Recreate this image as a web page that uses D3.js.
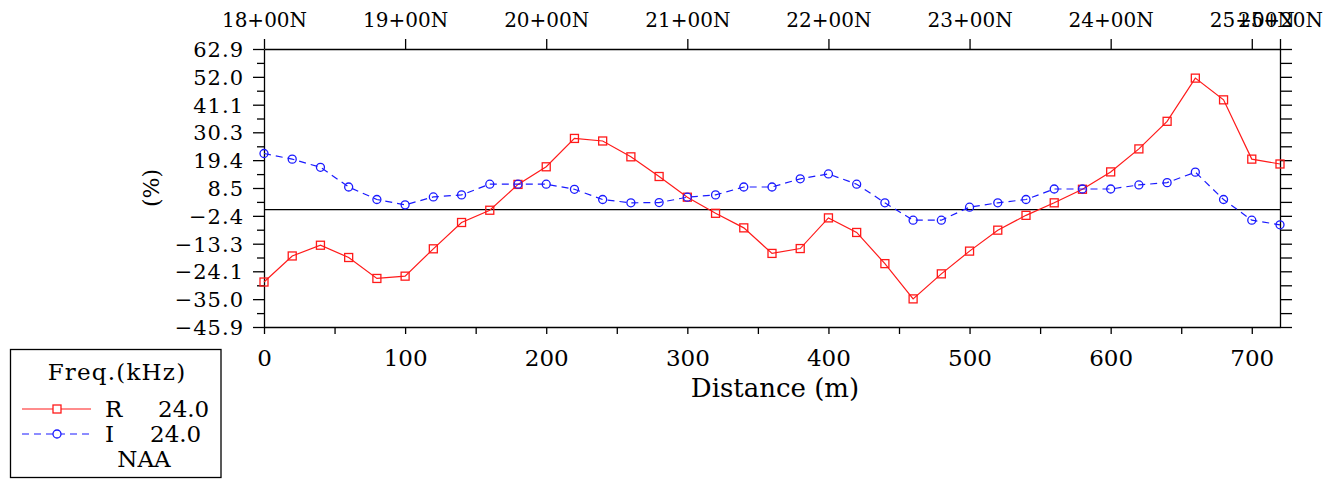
<!DOCTYPE html>
<html><head><meta charset="utf-8">
<script src="https://cdn.jsdelivr.net/npm/d3@7/dist/d3.min.js"></script>
<style>
body{margin:0;background:#fff;}
svg text{font-family:"DejaVu Serif",serif;fill:#000;}
</style></head><body>
<svg id="c" width="1340" height="479"></svg>
<script>
const distance = [0,20,40,60,80,100,120,140,160,180,200,220,240,260,280,300,320,340,360,380,400,420,440,460,480,500,520,540,560,580,600,620,640,660,680,700,720];
const seriesR = [-28.3,-18.1,-13.9,-18.7,-26.9,-26.0,-15.3,-5.0,-0.2,9.9,16.8,27.9,26.9,20.7,13.0,4.9,-1.4,-7.1,-17.1,-15.2,-3.2,-8.9,-21.1,-34.9,-25.1,-16.2,-8.0,-2.2,2.7,8.0,14.8,23.8,34.6,51.5,43.0,19.8,17.9];
const seriesI = [22.0,19.8,16.6,8.9,4.0,1.9,5.0,5.8,10.0,10.0,10.0,8.0,4.0,2.7,2.8,4.9,5.8,8.9,8.9,12.1,14.0,10.0,2.7,-4.1,-4.1,1.0,2.7,4.0,8.1,8.1,8.1,9.7,10.6,14.7,4.0,-4.1,-5.9];
const yTickLabels = ["-45.9","-35.0","-24.1","-13.3","-2.4","8.5","19.4","30.3","41.1","52.0","62.9"];
const xTickLabels = [0,100,200,300,400,500,600,700];
const stationValues = [0,100,200,300,400,500,600,700,720];
const stationLabels = ["18+00N","19+00N","20+00N","21+00N","22+00N","23+00N","24+00N","25+00N","25+20N"];
const legendTitle = "Freq.(kHz)";
const legendItems = [{name:"R",freq:"24.0"},{name:"I",freq:"24.0"}];
const legendFooter = "NAA";

const svg = d3.select("#c");
const L=264, R=1280, T=49, B=327;
const yMin=-45.9, yMax=62.9;
const x = d3.scaleLinear().domain([0,720]).range([L,R]);
const y = d3.scaleLinear().domain([yMin,yMax]).range([B,T]);
const yTicks = yTickLabels.map(Number);
const step = (yMax-yMin)/10;
const yMinor = d3.range(10).map(i=>yMin+step*(i+0.5));
const FONT = '"DejaVu Serif", serif';

function styleAxis(g, fs, ls){
  g.selectAll("path").attr("stroke","#000").attr("stroke-width",1.3);
  g.selectAll("line").attr("stroke","#000").attr("stroke-width",1.3);
  g.selectAll("text").attr("font-size",fs||20).attr("font-family",FONT).attr("letter-spacing",ls||0);
}

// left axis
const gl = svg.append("g").attr("transform",`translate(${L},0)`)
  .call(d3.axisLeft(y).tickValues(yTicks).tickFormat((d,i)=>yTickLabels[i].replace("-","\u2212")).tickSize(11).tickSizeOuter(0).tickPadding(9));
styleAxis(gl, 21, 1);
gl.selectAll("text").attr("dy","0.36em");
svg.append("g").attr("transform",`translate(${L},0)`)
  .call(d3.axisLeft(y).tickValues(yMinor).tickFormat("").tickSize(7).tickSizeOuter(0))
  .call(g=>{g.select("path").remove();styleAxis(g);});

// right axis
const gr = svg.append("g").attr("transform",`translate(${R},0)`)
  .call(d3.axisRight(y).tickValues(yTicks.concat(yMinor)).tickFormat("").tickSize(12).tickSizeOuter(0));
styleAxis(gr);

// bottom axis
const gb = svg.append("g").attr("transform",`translate(0,${B})`)
  .call(d3.axisBottom(x).tickValues(d3.range(0,701,50)).tickFormat(d=>xTickLabels.includes(d)?d:"").tickSize(7).tickSizeOuter(0).tickPadding(16));
styleAxis(gb, 23, 0);

// top axis
const gt = svg.append("g").attr("transform",`translate(0,${T})`)
  .call(d3.axisTop(x).tickValues(stationValues).tickFormat((d,i)=>stationLabels[i]).tickSize(10).tickSizeOuter(0).tickPadding(12));
styleAxis(gt, 20, 0);

// zero line
svg.append("line").attr("x1",L).attr("x2",R).attr("y1",y(0)).attr("y2",y(0))
  .attr("stroke","#000").attr("stroke-width",1.3);

// axis titles
svg.append("text").attr("x",775).attr("y",397).attr("text-anchor","middle").attr("font-size",26).text("Distance (m)");
svg.append("text").attr("transform","translate(159,188) rotate(-90)").attr("text-anchor","middle").attr("font-size",22).text("(%)");

// series
const line = d3.line().x((d,i)=>x(distance[i])).y(d=>y(d));
const red="#ff1a1a", blue="#1a1aff";
svg.append("path").datum(seriesR).attr("d",line).attr("fill","none").attr("stroke",red).attr("stroke-width",1.2);
svg.append("path").datum(seriesI).attr("d",line).attr("fill","none").attr("stroke",blue).attr("stroke-width",1.2).attr("stroke-dasharray","7,5");
svg.append("g").selectAll("rect").data(seriesR).join("rect")
  .attr("x",(d,i)=>x(distance[i])-4).attr("y",d=>y(d)-4).attr("width",8).attr("height",8)
  .attr("fill","none").attr("stroke",red).attr("stroke-width",1.3);
svg.append("g").selectAll("circle").data(seriesI).join("circle")
  .attr("cx",(d,i)=>x(distance[i])).attr("cy",d=>y(d)).attr("r",4)
  .attr("fill","none").attr("stroke",blue).attr("stroke-width",1.3);

// legend
const lg = svg.append("g");
lg.append("rect").attr("x",10.5).attr("y",349.5).attr("width",210.5).attr("height",128)
  .attr("fill","none").attr("stroke","#000").attr("stroke-width",1.3);
lg.append("text").attr("x",117).attr("y",380).attr("text-anchor","middle").attr("font-size",23).attr("letter-spacing",1.2).text(legendTitle);
const ly=[409,434], colors=[red,blue], fx=[158,150];
legendItems.forEach((it,i)=>{
  lg.append("line").attr("x1",22).attr("x2",91).attr("y1",ly[i]).attr("y2",ly[i])
    .attr("stroke",colors[i]).attr("stroke-width",1.2).attr("stroke-dasharray",i?"7,5":null);
  if(i===0) lg.append("rect").attr("x",53).attr("y",ly[i]-4).attr("width",8).attr("height",8).attr("fill","#fff").attr("stroke",red).attr("stroke-width",1.3);
  else lg.append("circle").attr("cx",57).attr("cy",ly[i]).attr("r",4).attr("fill","#fff").attr("stroke",blue).attr("stroke-width",1.3);
  lg.append("text").attr("x",105).attr("y",ly[i]+8).attr("font-size",23).text(it.name);
  lg.append("text").attr("x",fx[i]).attr("y",ly[i]+8).attr("font-size",23).text(it.freq);
});
lg.append("text").attr("x",144).attr("y",467).attr("text-anchor","middle").attr("font-size",23).text(legendFooter);
</script></body></html>
